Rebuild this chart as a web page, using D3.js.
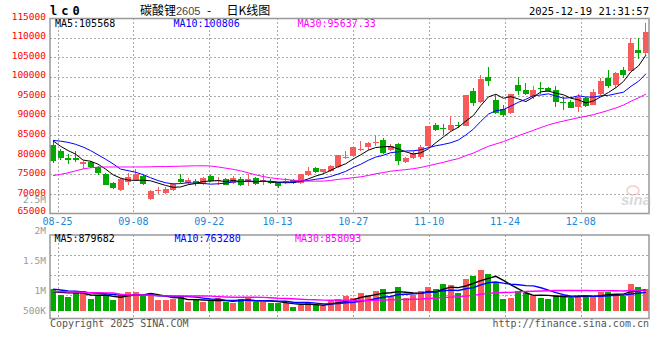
<!DOCTYPE html>
<html>
<head>
<meta charset="utf-8">
<script src="https://cdnjs.cloudflare.com/ajax/libs/d3/7.8.5/d3.min.js"></script>
<style>
body { margin: 0; background: #fff; }
text { font-family: "DejaVu Sans Mono", "Liberation Mono", monospace; font-size: 10px; }
</style>
</head>
<body>
<div id="chart"></div>
<script>
// trading days shown, 08-22 .. 12-19
var dates = ["08-22","08-25","08-26","08-27","08-28","08-29",
  "09-01","09-02","09-03","09-04","09-05","09-08","09-09","09-10","09-11","09-12",
  "09-15","09-16","09-17","09-18","09-19","09-22","09-23","09-24","09-25","09-26","09-29","09-30",
  "10-09","10-10","10-13","10-14","10-15","10-16","10-17","10-20","10-21","10-22","10-23","10-24",
  "10-27","10-28","10-29","10-30","10-31",
  "11-03","11-04","11-05","11-06","11-07","11-10","11-11","11-12","11-13","11-14",
  "11-17","11-18","11-19","11-20","11-21","11-24","11-25","11-26","11-27","11-28",
  "12-01","12-02","12-03","12-04","12-05","12-08","12-09","12-10","12-11","12-12",
  "12-15","12-16","12-17","12-18","12-19"];

var opens = [82550,80930,79220,79220,77780,78200,76920,75050,72840,70960,
  73090,73520,74620,68830,70900,70360,70960,73940,72920,73260,
  72500,74620,73430,73770,72920,73770,73260,74110,73430,73260,
  72840,73260,73520,72840,74790,76670,75650,75900,76920,79300,
  79650,81300,82040,83150,83740,81180,82890,78200,79220,79480,
  82290,87570,86800,86300,87740,87400,96260,93540,99930,93960,
  91830,90730,97800,96520,94820,97050,97120,96520,93640,93530,
  92250,94550,92870,95680,99660,97980,101630,101450,106920,106160];
var highs = [83700,81610,80330,80930,78300,78460,77100,75390,73090,74030,
  75480,76500,74960,70960,71810,71810,72920,75050,74110,73940,
  74370,74960,74370,74110,74620,74370,75010,74370,75220,73770,
  73090,74110,73940,75220,76920,76920,76500,77350,80080,81010,
  82040,83490,83310,85020,84420,82890,83140,79400,80930,82460,
  87500,88170,88000,89880,88430,95400,97120,100350,102480,95240,
  92860,95670,99930,98480,97540,98650,97370,97540,94820,93950,
  95500,94810,96780,99660,101630,101200,102480,109890,109990,113720];
var lows = [77900,78630,77780,78200,76500,76670,74790,72240,71300,70790,
  72240,73350,72410,68490,70110,70110,70700,72920,72660,72070,
  72240,73090,72240,72240,72660,72070,72070,72410,72240,72500,
  71560,72500,72670,72670,74620,75480,75220,75650,76750,78880,
  79480,80930,81180,82290,80330,80930,77520,78030,78880,79050,
  82100,86040,85190,86040,86890,87300,92430,93370,97540,90560,
  89700,90560,95240,95240,94390,95670,96090,92260,91580,92010,
  90970,92250,92690,95240,97210,97110,99660,101450,104620,105470];
var closes = [78400,79220,78710,78800,78200,76920,75480,72410,71560,73940,
  74370,75050,72660,70790,71000,71390,72660,73090,73690,72490,
  74000,73260,73600,72410,74110,72410,73770,72580,73600,72750,
  71980,73430,72840,75050,75900,75650,76330,77180,79910,79500,
  81950,81500,83060,83350,80500,82290,78460,79220,80590,82040,
  87320,86300,86600,87740,87320,95240,93370,99330,98820,90730,
  90130,95500,96260,95500,96520,96850,96440,93540,93450,92100,
  94810,92510,96090,98820,97540,101040,100350,108610,106160,111420];
var volumes = [924000,669000,584000,754000,839000,498000,626000,626000,456000,669000,
  797000,797000,626000,754000,456000,456000,498000,584000,371000,456000,
  371000,413000,541000,371000,328000,498000,541000,371000,371000,328000,
  328000,328000,158000,243000,328000,243000,200000,413000,498000,626000,
  541000,754000,669000,839000,924000,626000,1010000,541000,669000,839000,
  1010000,924000,1137000,1095000,754000,1350000,1478000,1734000,1563000,1180000,
  498000,541000,839000,754000,626000,541000,498000,669000,669000,541000,
  626000,584000,626000,797000,783000,711000,613000,1137000,1010000,924000];

// moving averages at the left edge (their windows start before the first day shown)
var ma5Head = [83600,82200,81100,80200];
var ma10Head = [83700,83500,83200,82700,82000,81100,80000,78900,77700];
var ma30Head = [74700,75000,75400,75900,76400,76700,76850,76900,76900,76900,
  76900,76900,76900,76950,77000,77000,77050,77100,77150,77200,
  77200,77150,76900,76600,76300,75900,75400,74900,74450];
var volMa5Head = [800000,780000,760000,760000];
var volMa10Head = [920000,880000,840000,830000,800000,760000,740000,720000,690000];
var volMa30Head = [815000,812000,809000,795000,780000,770000,762000,758000,754000,700000,
  672000,669000,669000,660000,640000,630000,626000,626000,626000,626000,
  626000,620000,600000,585000,575000,572000,570000,570000,566000];

var gridDates = ["08-25","09-08","09-22","10-13","10-27","11-10","11-24","12-08"];
var priceTicks = [115000,110000,105000,100000,95000,90000,85000,80000,75000,70000,65000];
var volTicks = [2500000,2000000,1500000,1000000,500000];
var volTickLabels = ["2.5M","2M","1.5M","1M","500K"];
var priceLegend = ["MA5:105568","MA10:100806","MA30:95637.33"];
var volLegend = ["MA5:879682","MA10:763280","MA30:858093"];

var upColor = "#f75b5b";
var downColor = "#00a800";
var maColors = ["#000000","#0000ff","#ff00ff"];

var svgWidth = 660;
var svgHeight = 360;
var plot = { left: 50, right: 649, top: 18, bottom: 213.5 };
var vol = { top: 235, bottom: 318.5, base: 310.7 };

var svg = d3.select("#chart")
  .append("svg")
  .attr("width", svgWidth)
  .attr("height", svgHeight);

svg.append("rect").attr("width", svgWidth).attr("height", svgHeight).attr("fill", "#fff");

// scales
var x = d3.scaleBand().domain(dates).range([plot.left, plot.right]).paddingInner(0.2);
var xGrid = d3.scalePoint().domain(dates).range([plot.left, plot.right]);
var y = d3.scaleLinear().domain([65000, 115000]).range([plot.bottom, plot.top]);
var yVol = d3.scaleLinear().domain([0, 1000000]).range([vol.base, vol.base - 23.5]);
var yVolLabel = d3.scaleLinear().domain([500000, 2000000]).range([323, 233]);
var yVolGrid = d3.scaleLinear().domain([0, 4]).range([vol.top, vol.top + 80]);

function movingAvg(values, n, head) {
  return values.map(function(v, i) {
    if (i < n - 1) return head[i];
    return d3.mean(values.slice(i - n + 1, i + 1));
  });
}

var candles = dates.map(function(d, i) {
  return { date: d, open: opens[i], high: highs[i], low: lows[i], close: closes[i], volume: volumes[i] };
});
var priceMAs = [movingAvg(closes, 5, ma5Head), movingAvg(closes, 10, ma10Head), movingAvg(closes, 30, ma30Head)];
var volMAs = [movingAvg(volumes, 5, volMa5Head), movingAvg(volumes, 10, volMa10Head), movingAvg(volumes, 30, volMa30Head)];

var bw = x.bandwidth();
function cx(d) { return Math.round(x(d) + bw / 2 - 0.5) + 0.5; }
function colorOf(c) { return c.close >= c.open ? upColor : downColor; }

// ---- grid lines ----
var grid = svg.append("g")
  .attr("stroke", "#aaa")
  .attr("stroke-dasharray", "2,2")
  .attr("shape-rendering", "crispEdges");

grid.selectAll(".hgrid")
  .data(priceTicks.slice(1, -1))
  .enter()
  .append("line")
  .attr("x1", plot.left).attr("x2", plot.right)
  .attr("y1", d => Math.round(y(d)) + 0.5)
  .attr("y2", d => Math.round(y(d)) + 0.5);

grid.selectAll(".vgridTop")
  .data(gridDates)
  .enter()
  .append("line")
  .attr("x1", d => Math.round(xGrid(d)) + 0.5)
  .attr("x2", d => Math.round(xGrid(d)) + 0.5)
  .attr("y1", plot.top).attr("y2", plot.bottom);

grid.selectAll(".vgridVol")
  .data(gridDates)
  .enter()
  .append("line")
  .attr("x1", d => Math.round(xGrid(d)) + 0.5)
  .attr("x2", d => Math.round(xGrid(d)) + 0.5)
  .attr("y1", vol.top).attr("y2", vol.bottom);

grid.selectAll(".hgridVol")
  .data([1, 2, 3])
  .enter()
  .append("line")
  .attr("x1", plot.left).attr("x2", plot.right)
  .attr("y1", d => Math.round(yVolGrid(d)) + 0.5)
  .attr("y2", d => Math.round(yVolGrid(d)) + 0.5);

// ---- candles ----
var candleGroup = svg.append("g").attr("shape-rendering", "crispEdges");

candleGroup.selectAll(".wick")
  .data(candles)
  .enter()
  .append("line")
  .attr("x1", d => cx(d.date)).attr("x2", d => cx(d.date))
  .attr("y1", d => y(d.high)).attr("y2", d => y(d.low))
  .attr("stroke", colorOf);

candleGroup.selectAll(".body")
  .data(candles)
  .enter()
  .append("rect")
  .attr("x", d => x(d.date))
  .attr("width", bw)
  .attr("y", d => y(Math.max(d.open, d.close)))
  .attr("height", d => Math.max(1, Math.abs(y(d.open) - y(d.close))))
  .attr("fill", colorOf);

// ---- volume bars ----
svg.append("g")
  .attr("shape-rendering", "crispEdges")
  .selectAll("rect")
  .data(candles)
  .enter()
  .append("rect")
  .attr("x", d => x(d.date))
  .attr("width", bw)
  .attr("y", d => yVol(d.volume))
  .attr("height", d => vol.base - yVol(d.volume))
  .attr("fill", colorOf);

// ---- moving average lines ----
var priceLine = d3.line()
  .x((d, i) => x(dates[i]) + bw / 2)
  .y(d => y(d));
var volLine = d3.line()
  .x((d, i) => x(dates[i]) + bw / 2)
  .y(d => yVol(d));

priceMAs.forEach(function(series, i) {
  svg.append("path")
    .attr("d", priceLine(series))
    .attr("fill", "none")
    .attr("stroke", maColors[i])
    .attr("stroke-width", 1);
});
volMAs.forEach(function(series, i) {
  svg.append("path")
    .attr("d", volLine(series))
    .attr("fill", "none")
    .attr("stroke", maColors[i])
    .attr("stroke-width", 1.4);
});

// ---- frames ----
svg.append("rect")
  .attr("x", plot.left).attr("y", plot.top + 0.5)
  .attr("width", plot.right - plot.left).attr("height", plot.bottom - plot.top - 0.5)
  .attr("fill", "none").attr("stroke", "#999").attr("stroke-width", 1.5);
svg.append("rect")
  .attr("x", plot.left).attr("y", vol.top)
  .attr("width", plot.right - plot.left).attr("height", vol.bottom - vol.top)
  .attr("fill", "none").attr("stroke", "#999").attr("stroke-width", 1.5);

// ---- axis labels ----
svg.selectAll(".priceLabel")
  .data(priceTicks)
  .enter()
  .append("text")
  .attr("x", 46)
  .attr("y", d => Math.min(y(d) + 1.7, 213.5))
  .attr("text-anchor", "end")
  .attr("fill", "#f00")
  .style("font-size", "9.5px")
  .text(d => d);

svg.selectAll(".volLabel")
  .data(volTicks)
  .enter()
  .append("text")
  .attr("x", 46)
  .attr("y", d => Math.min(yVolLabel(d), 313) + (d > 2000000 ? 0 : 1))
  .attr("text-anchor", "end")
  .attr("fill", "#999")
  .style("font-size", "9.5px")
  .text((d, i) => volTickLabels[i]);

svg.selectAll(".dateLabel")
  .data(gridDates)
  .enter()
  .append("text")
  .attr("x", d => xGrid(d))
  .attr("y", 225)
  .attr("text-anchor", "middle")
  .attr("fill", "#1a88d8")
  .text(d => d);

// ---- legends ----
var legendX = [55, 173.5, 297.5];
svg.selectAll(".priceLegend")
  .data(priceLegend)
  .enter()
  .append("text")
  .attr("x", (d, i) => legendX[i])
  .attr("y", 26.7)
  .attr("fill", (d, i) => maColors[i])
  .text(d => d);

var volLegendX = [54.5, 174.5, 295];
svg.selectAll(".volLegend")
  .data(volLegend)
  .enter()
  .append("text")
  .attr("x", (d, i) => volLegendX[i])
  .attr("y", 241.7)
  .attr("fill", (d, i) => maColors[i])
  .text(d => d);

// ---- titles ----
svg.append("text")
  .attr("x", 50).attr("y", 15)
  .style("font-size", "12px").style("font-weight", "bold")
  .attr("letter-spacing", 4)
  .text("lc0");

var cjk = "'Noto Sans CJK SC', sans-serif";
svg.append("text").attr("x", 140).attr("y", 15)
  .style("font-family", cjk).style("font-size", "12px").text("碳酸锂");
svg.append("text").attr("x", 176).attr("y", 15)
  .style("font-family", "'Liberation Sans', sans-serif").style("font-size", "11px").attr("fill", "#444").text("2605");
svg.append("text").attr("x", 207).attr("y", 15)
  .style("font-family", cjk).style("font-size", "12px").text("-");
svg.append("text").attr("x", 226.5).attr("y", 15)
  .style("font-family", cjk).style("font-size", "12px").text("日K线图");

svg.append("text")
  .attr("x", 649).attr("y", 15)
  .attr("text-anchor", "end")
  .style("font-size", "10.5px")
  .text("2025-12-19 21:31:57");

svg.append("text")
  .attr("x", 50).attr("y", 326.5)
  .attr("fill", "#555")
  .text("Copyright 2025 SINA.COM");
svg.append("text")
  .attr("x", 649).attr("y", 326.5)
  .attr("text-anchor", "end")
  .attr("fill", "#555")
  .text("http://finance.sina.com.cn");

// sina watermark
var mark = svg.append("g").attr("opacity", 0.55);
mark.append("ellipse")
  .attr("cx", 633).attr("cy", 190.5).attr("rx", 6).attr("ry", 4.5)
  .attr("fill", "none").attr("stroke", "#f2a0a0").attr("stroke-width", 1.5);
mark.append("text")
  .attr("x", 621).attr("y", 205)
  .style("font-family", "'Liberation Sans', sans-serif")
  .style("font-size", "15px").style("font-weight", "bold").style("font-style", "italic")
  .attr("fill", "#bbb")
  .text("sina");
</script>
</body>
</html>
